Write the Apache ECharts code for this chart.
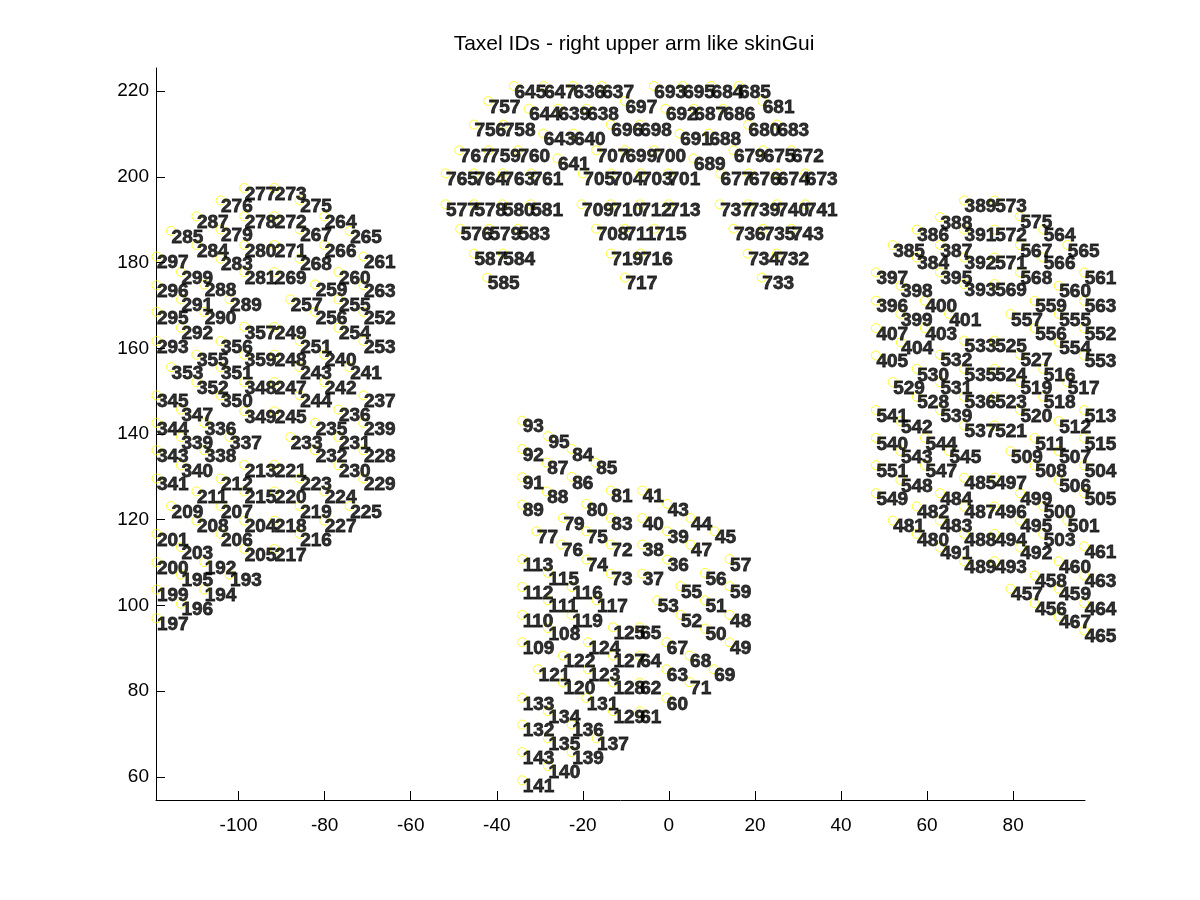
<!DOCTYPE html>
<html><head><meta charset="utf-8">
<script src="https://cdn.jsdelivr.net/npm/echarts@6/dist/echarts.min.js"></script>
<style>html,body{margin:0;padding:0;background:#fff}#c{width:1200px;height:900px}</style>
</head><body><div id="c"></div>
<script>
const titleText = 'Taxel IDs - right upper arm like skinGui';
const xTicks = [-100,-80,-60,-40,-20,0,20,40,60,80];
const yTicks = [60,80,100,120,140,160,180,200,220];

// Left patch
const leftIds = [277,273,276,275, 287,278,272,264, 285,279,267,265, 284,280,271,266,
  297,283,268,261, 299,281,269,260, 296,288,259,263, 291,289,257,255,
  295,290,256,252, 292,357,249,254, 293,356,251,253, 355,359,248,240,
  353,351,243,241, 352,348,247,242, 345,350,244,237, 347,349,245,236,
  344,336,235,239, 339,337,233,231, 343,338,232,228, 340,213,221,230,
  341,212,223,229, 211,215,220,224, 209,207,219,225, 208,204,218,227,
  201,206,216, 203,205,217, 200,192, 195,193, 199,194, 196, 197];
const leftX = [-98.7,-91.7,-104.2,-85.8, -109.8,-98.7,-91.7,-80.1, -115.7,-104.2,-85.8,-74.2, -109.8,-98.7,-91.7,-80.1,
  -119.1,-104.2,-85.8,-71.0, -113.4,-98.7,-91.7,-76.8, -119.1,-108.0,-82.2,-71.0, -113.4,-102.1,-88.0,-76.8,
  -119.1,-108.0,-82.2,-71.0, -113.4,-98.7,-91.7,-76.8, -119.1,-104.2,-85.8,-71.0, -109.8,-98.7,-91.7,-80.1,
  -115.7,-104.2,-85.8,-74.2, -109.8,-98.7,-91.7,-80.1, -119.1,-104.2,-85.8,-71.0, -113.4,-98.7,-91.7,-76.8,
  -119.1,-108.0,-82.2,-71.0, -113.4,-102.1,-88.0,-76.8, -119.1,-108.0,-82.2,-71.0, -113.4,-98.7,-91.7,-76.8,
  -119.1,-104.2,-85.8,-71.0, -109.8,-98.7,-91.7,-80.1, -115.7,-104.2,-85.8,-74.2, -109.8,-98.7,-91.7,-80.1,
  -119.1,-104.2,-85.8, -113.4,-98.7,-91.7, -119.1,-108.0, -113.4,-102.1, -119.1,-108.0, -113.4, -119.1];
const leftY = [197.4,197.4,194.5,194.5, 190.8,190.8,190.8,190.8, 187.4,187.7,187.7,187.4, 184.1,184.1,184.1,184.1,
  181.4,180.9,180.9,181.4, 177.8,177.8,177.8,177.8, 174.7,174.9,174.9,174.7, 171.4,171.4,171.4,171.4,
  168.5,168.5,168.5,168.5, 164.8,165.0,165.0,164.8, 161.7,161.7,161.7,161.7, 158.5,158.5,158.5,158.5,
  155.6,155.6,155.6,155.6, 152.1,152.1,152.1,152.1, 149.0,149.0,149.0,149.0, 145.7,145.3,145.3,145.7,
  142.6,142.6,142.6,142.6, 139.3,139.3,139.3,139.3, 136.2,136.2,136.2,136.2, 132.7,132.8,132.8,132.7,
  129.6,129.6,129.6,129.6, 126.6,126.6,126.6,126.6, 123.2,123.2,123.2,123.2, 119.8,119.8,119.8,119.8,
  116.7,116.7,116.7, 113.6,113.2,113.2, 110.1,110.1, 107.2,107.2, 103.7,103.7, 100.4, 97.0];

// Top patch
const topIds = [645,647,636,637,693,695,684,685,
  757,697,681,
  644,639,638,692,687,686,
  756,758,696,698,680,683,
  643,640,691,688,
  767,759,760,707,699,700,679,675,672,
  641,689,
  765,764,763,761,705,704,703,701,677,676,674,673,
  577,578,580,581,709,710,712,713,737,739,740,741,
  576,579,583,708,711,715,736,735,743,
  587,584,719,716,734,732,
  585,717,733];
const topX = [-36.0,-29.1,-22.3,-15.6,-3.5,3.2,9.8,16.2,
  -42.0,-10.2,21.7,
  -32.6,-25.8,-19.1,-0.8,5.8,12.6,
  -45.3,-38.5,-13.5,-6.8,18.4,25.1,
  -29.2,-22.2,2.5,9.3,
  -48.7,-41.9,-35.1,-16.9,-10.2,-3.5,15.0,21.9,28.5,
  -25.9,5.7,
  -51.9,-45.3,-38.6,-32.0,-20.0,-13.4,-6.6,-0.2,11.9,18.5,25.2,31.7,
  -51.9,-45.3,-38.7,-32.1,-20.3,-13.5,-6.8,-0.1,11.8,18.4,25.1,31.7,
  -48.5,-41.8,-35.1,-16.9,-10.2,-3.4,15.0,21.9,28.5,
  -45.3,-38.6,-13.5,-6.6,18.3,25.1,
  -42.2,-10.2,21.6];
const topY = [221.2,221.2,221.2,221.2,221.2,221.2,221.2,221.2,
  217.7,217.7,217.7,
  215.9,215.9,215.9,215.9,215.9,215.9,
  212.2,212.2,212.2,212.2,212.2,212.2,
  210.1,210.1,210.1,210.1,
  206.2,206.2,206.2,206.2,206.2,206.2,206.2,206.2,206.2,
  204.3,204.3,
  200.8,200.8,200.8,200.8,200.8,200.8,200.8,200.8,200.8,200.8,200.8,200.8,
  193.6,193.6,193.6,193.6,193.6,193.6,193.6,193.6,193.6,193.6,193.6,193.6,
  187.9,187.9,187.9,187.9,187.9,187.9,187.9,187.9,187.9,
  182.1,182.1,182.1,182.1,182.1,182.1,
  176.5,176.5,176.5];

// Bottom patch
const botIds = [93,95,92,84,87,85,91,86,88,81,41,89,80,43,79,83,40,44,77,75,39,45,76,72,38,47,
  113,74,36,57,115,73,37,56,112,116,55,59,111,117,53,51,110,119,52,48,108,125,65,50,
  109,124,67,49,122,127,64,68,121,123,63,69,120,128,62,71,
  133,131,60,134,129,61,132,136,135,137,143,139,140,141];
const botX = [-34.1,-28.1,-34.1,-22.6,-28.4,-17.0,-34.1,-22.6,-28.4,-13.5,-6.2,-34.1,-19.2,-0.4,-24.6,-13.5,-6.2,5.0,-30.8,-19.2,-0.4,10.6,-25.0,-13.5,-6.2,5.0,
  -34.1,-19.2,-0.4,14.1,-28.1,-13.5,-6.2,8.4,-34.1,-22.6,2.7,14.1,-28.1,-16.8,-2.7,8.4,-34.1,-22.6,2.7,14.1,-28.1,-13.0,-6.8,8.4,
  -34.1,-18.8,-0.6,14.1,-24.6,-13.0,-6.8,4.8,-30.4,-18.8,-0.6,10.4,-24.6,-13.0,-6.8,4.8,
  -34.1,-19.2,-0.6,-28.1,-13.0,-6.8,-34.1,-22.6,-28.1,-16.8,-34.1,-22.6,-28.1,-34.1];
const botY = [143.1,139.5,136.5,136.5,133.3,133.3,129.9,130.0,126.6,126.8,126.8,123.5,123.7,123.7,120.4,120.4,120.4,120.4,117.3,117.3,117.3,117.3,114.2,114.2,114.2,114.2,
  110.8,110.7,110.7,110.8,107.6,107.4,107.4,107.6,104.3,104.3,104.5,104.5,101.2,101.2,101.2,101.2,97.8,97.8,97.8,97.8,94.7,94.9,94.9,94.6,
  91.4,91.4,91.4,91.4,88.3,88.3,88.3,88.3,85.1,85.1,85.1,85.1,82.0,82.0,82.0,82.1,
  78.4,78.4,78.4,75.3,75.3,75.3,72.2,72.2,69.0,69.0,65.8,65.8,62.5,59.2];

// Right patch
const rightIds = [389,573,388,575, 386,391,572,564, 385,387,567,565, 384,392,571,566,
  397,395,568,561, 398,393,569,560, 396,400,559,563, 399,401,557,555, 407,403,556,552,
  404,533,525,554, 405,532,527,553, 530,535,524,516, 529,531,519,517, 528,536,523,518,
  541,539,520,513, 542,537,521,512, 540,544,511,515, 543,545,509,507, 551,547,508,504,
  548,485,497,506, 549,484,499,505, 482,487,496,500, 481,483,495,501, 480,488,494,503,
  491,492,461, 489,493,460, 458,463, 457,459, 456,464, 467, 465];
const rightX = [68.6,75.7,63.0,81.6, 57.6,68.6,75.7,87.0, 52.0,63.0,81.6,92.6, 57.6,68.6,75.7,87.0,
  48.1,63.0,81.6,96.5, 53.8,68.6,75.7,90.6, 48.1,59.5,85.0,96.5, 53.8,65.1,79.4,90.6, 48.1,59.5,85.0,96.5,
  53.9,68.6,75.7,90.6, 48.1,63.0,81.6,96.5, 57.6,68.6,75.7,87.0, 52.0,63.0,81.6,92.6, 57.6,68.6,75.7,87.0,
  48.1,63.0,81.6,96.5, 53.8,68.6,75.7,90.6, 48.1,59.5,85.0,96.5, 53.8,65.1,79.4,90.6, 48.1,59.5,85.0,96.5,
  53.8,68.6,75.7,90.6, 48.1,63.0,81.6,96.5, 57.6,68.6,75.7,87.0, 52.0,63.0,81.6,92.6, 57.6,68.6,75.7,87.0,
  63.0,81.6,96.5, 68.6,75.7,90.6, 85.0,96.5, 79.4,90.6, 85.0,96.5, 90.6, 96.5];
const rightY = [194.5,194.5,190.6,190.8, 187.7,187.7,187.7,187.7, 184.1,184.1,184.1,184.1, 181.2,181.2,181.2,181.2,
  177.7,177.7,177.7,177.7, 174.6,175.0,175.0,174.6, 171.1,171.1,171.1,171.1, 168.0,168.0,168.0,168.0, 164.7,164.7,164.7,164.7,
  161.4,161.8,161.8,161.4, 158.3,158.5,158.5,158.3, 155.2,155.2,155.2,155.2, 152.1,152.1,152.1,152.1, 148.7,148.7,148.7,148.7,
  145.6,145.6,145.6,145.6, 143.0,142.0,142.0,143.0, 139.1,139.1,139.1,139.1, 136.0,136.0,136.0,136.0, 132.7,132.7,132.7,132.7,
  129.3,129.8,129.8,129.3, 126.2,126.2,126.2,126.2, 123.1,123.1,123.1,123.1, 119.8,119.8,119.8,119.8, 116.7,116.7,116.7,116.7,
  113.5,113.5,113.8, 110.3,110.3,110.3, 107.0,107.0, 103.9,103.9, 100.5,100.5, 97.4, 94.2];

const F = '"Liberation Sans", Arial, Helvetica, sans-serif';
function pts(ids, xs, ys) { return ids.map((id, i) => [xs[i], ys[i], id]); }
const data = [].concat(
  pts(leftIds, leftX, leftY),
  pts(topIds, topX, topY),
  pts(botIds, botX, botY),
  pts(rightIds, rightX, rightY)
);

const chart = echarts.init(document.getElementById('c'), null, {renderer: 'canvas'});
chart.setOption({
  animation: false,
  backgroundColor: '#ffffff',
  title: {
    text: titleText, left: 634, top: 34, padding: 0, textAlign: 'center',
    textStyle: {fontFamily: F, fontSize: 21, fontWeight: 'normal', color: '#000'}
  },
  grid: {left: 156, right: 115, top: 68, bottom: 100},
  xAxis: {
    type: 'value', min: -119.2, max: 96.7,
    axisLine: {onZero: false, lineStyle: {color: '#000', width: 1}},
    axisTick: {inside: true, length: 9, customValues: xTicks, lineStyle: {color: '#000'}},
    axisLabel: {customValues: xTicks, margin: 16, fontSize: 19, color: '#000', fontFamily: F},
    splitLine: {show: false}
  },
  yAxis: {
    type: 'value', min: 54.6, max: 225.4,
    axisLine: {onZero: false, lineStyle: {color: '#000', width: 1}},
    axisTick: {inside: true, length: 9, customValues: yTicks, lineStyle: {color: '#000'}},
    axisLabel: {customValues: yTicks, margin: 7, fontSize: 19, color: '#000', fontFamily: F},
    splitLine: {show: false}
  },
  series: [{
    type: 'scatter',
    data: data,
    clip: false,
    symbol: 'circle',
    symbolSize: 9,
    itemStyle: {color: 'rgba(0,0,0,0)', borderColor: '#ffff00', borderWidth: 1},
    label: {
      show: true, position: [5.5, 11.5], align: 'left', verticalAlign: 'middle',
      formatter: p => String(p.value[2]),
      fontFamily: F, fontSize: 19, fontWeight: 'bold', color: '#000',
      textBorderColor: '#000', textBorderWidth: 0.8
    },
    emphasis: {disabled: true}
  }]
});
</script>
</body></html>
